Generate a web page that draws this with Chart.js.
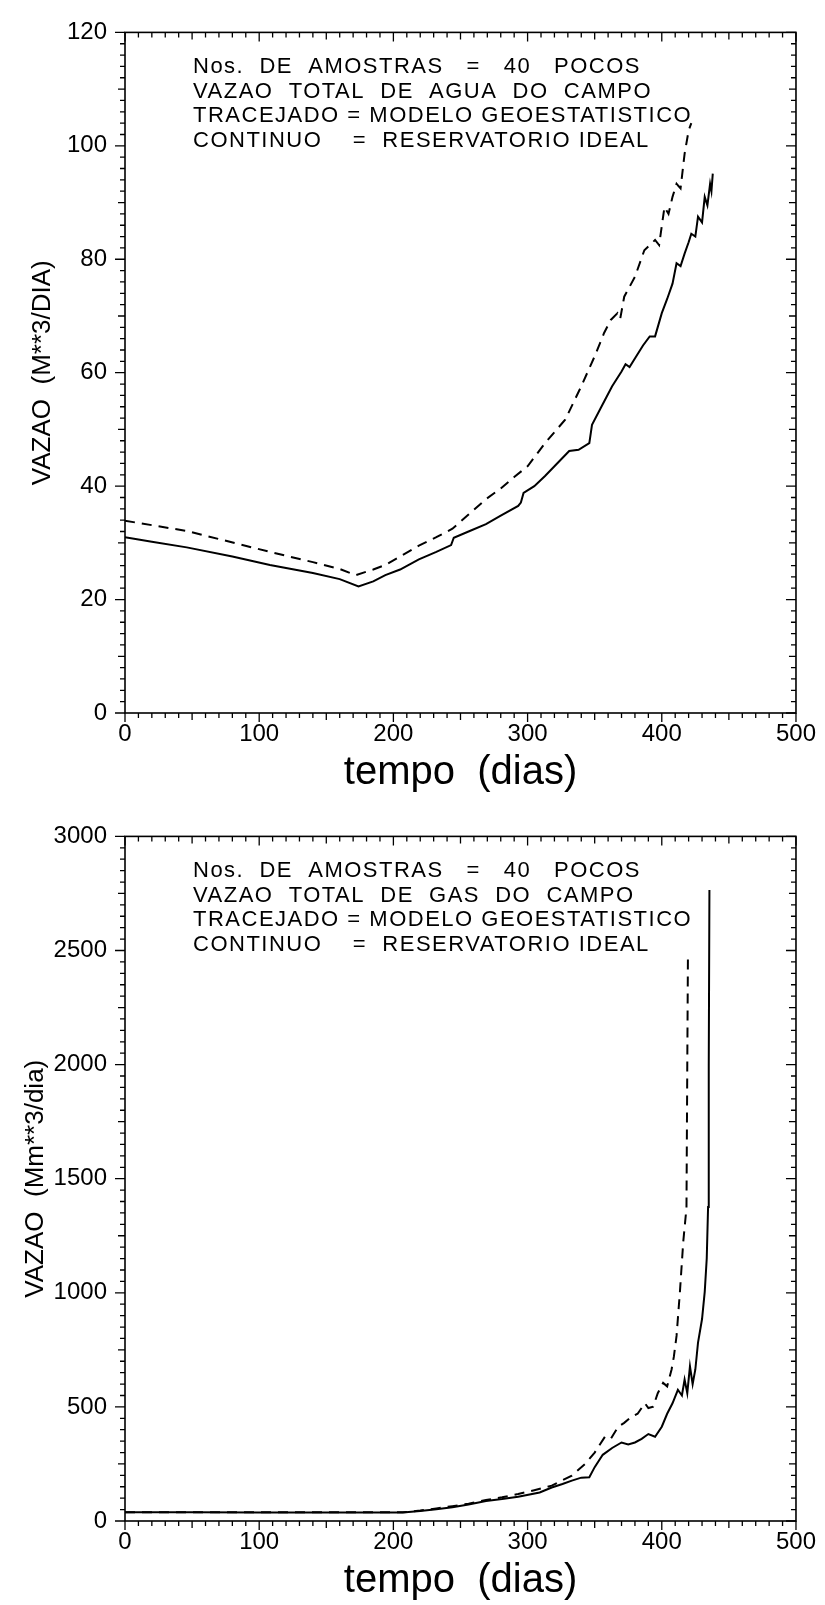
<!DOCTYPE html>
<html>
<head>
<meta charset="utf-8">
<script src="https://cdn.jsdelivr.net/npm/chart.js@4.4.1/dist/chart.umd.min.js"></script>
<style>
  html, body { margin: 0; padding: 0; background: #fff; }
  body { width: 825px; height: 1605px; position: relative; overflow: hidden; }
  .panel { position: absolute; left: 0; }
</style>
</head>
<body>
<div class="panel" style="top:0"><canvas id="aguaChart" width="825" height="800"></canvas></div>
<div class="panel" style="top:804px"><canvas id="gasChart" width="825" height="801"></canvas></div>
<script>
// Vazao total de agua do campo
const aguaDiasIdeal = [0, 20, 46, 80, 108, 140, 160, 174, 185, 194, 205, 219, 232, 243, 245, 256, 269, 280, 293, 295, 297, 305, 313, 322, 331, 338, 346, 348, 355, 363, 370, 373, 376, 381, 386, 391, 395, 400, 404, 408, 411, 414, 417, 420, 422, 425, 427, 430, 432, 434, 436, 437, 438];
const aguaVazaoIdeal = [31.0, 30.2, 29.2, 27.6, 26.1, 24.7, 23.6, 22.3, 23.2, 24.3, 25.3, 27.1, 28.4, 29.6, 30.9, 32.0, 33.3, 34.8, 36.5, 37.1, 38.8, 40.0, 41.8, 44.0, 46.2, 46.4, 47.6, 50.8, 54.0, 57.6, 60.2, 61.5, 61.0, 62.9, 64.8, 66.4, 66.4, 70.5, 73.0, 75.7, 79.3, 78.8, 81.0, 83.0, 84.5, 84.0, 87.5, 86.5, 91.0, 89.5, 93.3, 92.0, 95.1];
const aguaDiasGeo = [0, 46, 108, 140, 160, 172, 185, 194, 205, 219, 232, 244, 256, 269, 280, 290, 300, 313, 328, 340, 350, 357, 362, 367, 369, 372, 380, 387, 395, 398, 402, 405, 408, 411, 414, 417, 420, 422];
const aguaVazaoGeo = [33.9, 32.1, 28.4, 26.6, 25.4, 24.3, 25.3, 26.1, 27.6, 29.5, 31.0, 32.5, 35.0, 37.7, 39.6, 41.6, 43.5, 47.6, 51.7, 57.6, 62.9, 67.0, 69.3, 70.5, 69.5, 73.4, 76.9, 81.6, 83.4, 82.5, 89.2, 88.0, 91.0, 93.3, 92.5, 98.6, 102.7, 104.0];

// Vazao total de gas do campo
const gasDiasIdeal = [0, 50, 100, 150, 207, 220, 232, 244, 256, 269, 281, 293, 309, 318, 326, 333, 340, 346, 350, 356, 363, 370, 375, 380, 385, 390, 395, 400, 404, 408, 412, 415, 417, 419, 421, 423, 425, 427, 430, 432, 433.5, 434.5, 435, 435.5];
const gasVazaoIdeal = [38, 38, 37, 37, 37, 44, 52, 60, 72, 88, 96, 106, 125, 147, 162, 177, 190, 192, 236, 290, 320, 344, 335, 344, 360, 381, 369, 413, 470, 516, 575, 550, 620, 560, 678, 600, 664, 782, 885, 1004, 1150, 1376, 2000, 2765];
const gasDiasGeo = [0, 100, 207, 220, 232, 244, 256, 269, 281, 293, 305, 318, 333, 343, 350, 357.6, 362, 367.5, 372, 377.5, 382, 387.4, 390, 393.6, 397, 401, 404, 407.3, 409, 411, 413.5, 416, 418.4, 419, 419.5];
const gasVazaoGeo = [38, 38, 38, 46, 55, 65, 76, 92, 104, 118, 135, 155, 199, 251, 300, 369, 360, 413, 430, 457, 470, 516, 495, 501, 560, 605, 590, 664, 720, 811, 1003, 1224, 1372, 2000, 2490];

const tempoTicks = [0, 100, 200, 300, 400, 500];
const aguaTicks = [0, 20, 40, 60, 80, 100, 120];
const gasTicks = [0, 500, 1000, 1500, 2000, 2500, 3000];

const aguaTexto = [
    'Nos.  DE  AMOSTRAS   =   40   POCOS',
    'VAZAO  TOTAL  DE  AGUA  DO  CAMPO',
    'TRACEJADO = MODELO GEOESTATISTICO',
    'CONTINUO    =  RESERVATORIO IDEAL'
];
const gasTexto = [
    'Nos.  DE  AMOSTRAS   =   40   POCOS',
    'VAZAO  TOTAL  DE  GAS  DO  CAMPO',
    'TRACEJADO = MODELO GEOESTATISTICO',
    'CONTINUO    =  RESERVATORIO IDEAL'
];

const FONT = '"Liberation Sans", Arial, sans-serif';

function toPoints(xs, ys) {
    return xs.map((x, i) => ({ x: x, y: ys[i] }));
}

// Frame of the plot plus major / minor tick marks on all four sides
const frameTicks = {
    id: 'frameTicks',
    afterDraw(chart, args, opts) {
        const { ctx, chartArea: a, scales: { x, y } } = chart;
        ctx.save();
        ctx.strokeStyle = '#000';
        ctx.lineWidth = 1.6;
        ctx.strokeRect(a.left, a.top, a.right - a.left, a.bottom - a.top);
        ctx.lineWidth = 1.3;
        ctx.beginPath();
        for (let v = x.min; v <= x.max + 1e-6; v += opts.xMinor) {
            const px = x.getPixelForValue(v);
            let len = 5;
            if (Math.abs(v % opts.xMajor) < 1e-6) len = 9;
            else if (Math.abs(v % opts.xMid) < 1e-6) len = 7;
            ctx.moveTo(px, a.bottom); ctx.lineTo(px, a.bottom + len);
            ctx.moveTo(px, a.top); ctx.lineTo(px, a.top + len);
        }
        for (let v = y.min; v <= y.max + 1e-6; v += opts.yMinor) {
            const py = y.getPixelForValue(v);
            let len = 5;
            if (Math.abs(v % opts.yMajor) < 1e-6) len = 10;
            else if (Math.abs(v % opts.yMid) < 1e-6) len = 7;
            ctx.moveTo(a.left, py); ctx.lineTo(a.left - len, py);
            ctx.moveTo(a.right, py); ctx.lineTo(a.right - len, py);
        }
        ctx.stroke();
        ctx.restore();
    }
};

// Block of text written inside the plot area
const infoText = {
    id: 'infoText',
    afterDatasetsDraw(chart, args, opts) {
        const { ctx, chartArea } = chart;
        ctx.save();
        ctx.fillStyle = '#000';
        ctx.font = '22px ' + FONT;
        ctx.letterSpacing = '1.5px';
        ctx.textBaseline = 'middle';
        opts.lines.forEach((line, i) => {
            ctx.fillText(line, chartArea.left + 68, chartArea.top + 35 + i * 24.5);
        });
        ctx.restore();
    }
};

function drawVazaoChart(canvas, cfg) {
    new Chart(canvas.getContext('2d'), {
        type: 'line',
        data: {
            datasets: [{
                label: 'Reservatorio ideal',
                data: toPoints(cfg.diasIdeal, cfg.vazaoIdeal),
                borderColor: '#000',
                borderWidth: 2,
                pointRadius: 0,
                tension: 0
            }, {
                label: 'Modelo geoestatistico',
                data: toPoints(cfg.diasGeo, cfg.vazaoGeo),
                borderColor: '#000',
                borderWidth: 2,
                borderDash: [10, 7],
                pointRadius: 0,
                tension: 0
            }]
        },
        options: {
            responsive: false,
            animation: false,
            events: [],
            layout: { padding: { top: cfg.padTop, right: 25, left: 0, bottom: 0 } },
            scales: {
                x: {
                    type: 'linear',
                    min: 0,
                    max: 500,
                    afterBuildTicks: (axis) => { axis.ticks = tempoTicks.map(v => ({ value: v })); },
                    afterFit: (axis) => { axis.height = cfg.xHeight; },
                    grid: { display: false, drawTicks: false },
                    border: { display: false },
                    ticks: {
                        color: '#000',
                        padding: cfg.xPad,
                        maxRotation: 0,
                        font: { family: FONT, size: 24, lineHeight: 1 },
                        callback: (v) => String(v)
                    },
                    title: {
                        display: true,
                        text: 'tempo  (dias)',
                        color: '#000',
                        font: { family: FONT, size: 40 },
                        padding: { top: 0, bottom: cfg.titlePad }
                    }
                },
                y: {
                    type: 'linear',
                    min: 0,
                    max: cfg.yTicks[cfg.yTicks.length - 1],
                    afterBuildTicks: (axis) => { axis.ticks = cfg.yTicks.map(v => ({ value: v })); },
                    afterFit: (axis) => { axis.width = 125; },
                    grid: { display: false, drawTicks: false },
                    border: { display: false },
                    ticks: {
                        color: '#000',
                        padding: 18,
                        font: { family: FONT, size: 24 },
                        callback: (v) => String(v)
                    },
                    title: {
                        display: true,
                        text: cfg.yTitle,
                        color: '#000',
                        font: { family: FONT, size: 26 },
                        padding: { top: cfg.yTitlePad, bottom: 0 }
                    }
                }
            },
            plugins: {
                legend: { display: false },
                tooltip: { enabled: false },
                frameTicks: cfg.tickSteps,
                infoText: { lines: cfg.texto }
            }
        },
        plugins: [frameTicks, infoText]
    });
}

drawVazaoChart(document.getElementById('aguaChart'), {
    diasIdeal: aguaDiasIdeal, vazaoIdeal: aguaVazaoIdeal,
    diasGeo: aguaDiasGeo, vazaoGeo: aguaVazaoGeo,
    yTicks: aguaTicks,
    yTitle: 'VAZAO  (M**3/DIA)',
    texto: aguaTexto,
    padTop: 26, xHeight: 87, xPad: 9, titlePad: 3, yTitlePad: 27,
    tickSteps: { xMinor: 10, xMid: 50, xMajor: 100, yMinor: 2, yMid: 10, yMajor: 20 }
});

drawVazaoChart(document.getElementById('gasChart'), {
    diasIdeal: gasDiasIdeal, vazaoIdeal: gasVazaoIdeal,
    diasGeo: gasDiasGeo, vazaoGeo: gasVazaoGeo,
    yTicks: gasTicks,
    yTitle: 'VAZAO  (Mm**3/dia)',
    texto: gasTexto,
    padTop: 32, xHeight: 84, xPad: 9, titlePad: 0, yTitlePad: 20,
    tickSteps: { xMinor: 10, xMid: 50, xMajor: 100, yMinor: 50, yMid: 250, yMajor: 500 }
});
</script>
</body>
</html>
